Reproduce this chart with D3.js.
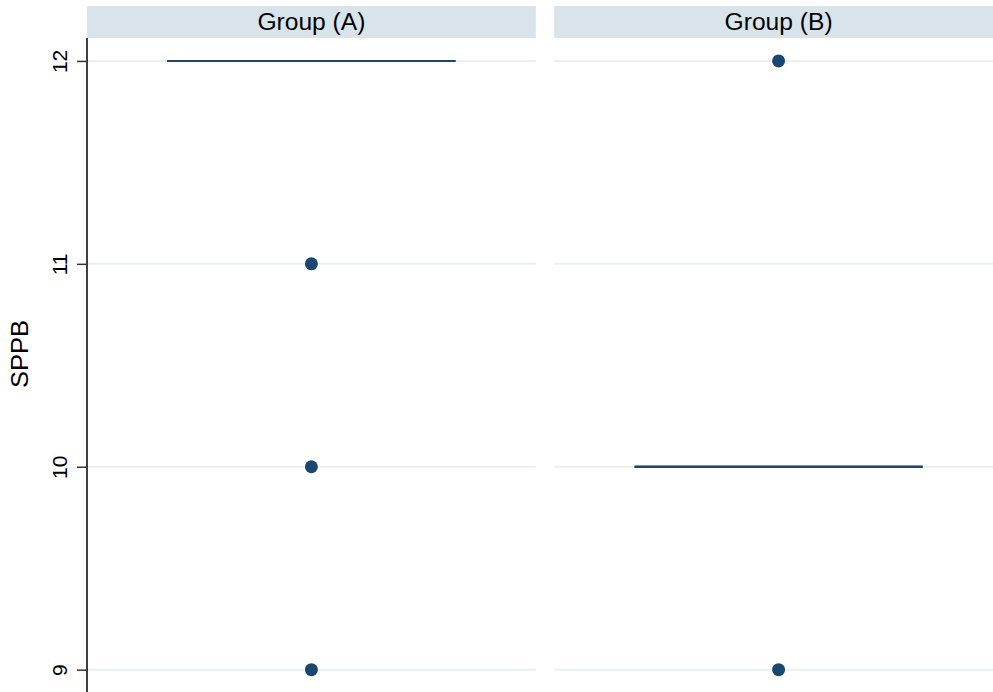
<!DOCTYPE html>
<html>
<head>
<meta charset="utf-8">
<script src="https://cdn.jsdelivr.net/npm/d3@7"></script>
<style>
  html, body { margin: 0; padding: 0; background: #fff; }
  svg { display: block; font-family: "Liberation Sans", Arial, sans-serif; }
</style>
</head>
<body>
<svg id="chart" width="993" height="692"></svg>
<script>
// Panels, box summaries (collapsed boxes) and outlying points
const groups = ["Group (A)", "Group (B)"];
const boxLow = [12, 10];
const boxMedian = [12, 10];
const boxHigh = [12, 10];
const outliersA = [11, 10, 9];
const outliersB = [12, 9];
const outliers = [outliersA, outliersB];
const yTicks = [9, 10, 11, 12];

const W = 993, H = 692;
const svg = d3.select("#chart");
const navy = "#1a476f";

const plotTop = 38, plotBottom = 692;
const y = d3.scaleLinear().domain([8.89, 12.113]).range([plotBottom, plotTop]);

const panels = d3.scaleBand().domain(groups).range([87, 1003]).paddingInner(0.0393);
const xInner = d3.scaleLinear().domain([0, 1]);

groups.forEach((g, i) => {
  const x0 = panels(g), bw = panels.bandwidth();
  const pg = svg.append("g");

  // strip header
  pg.append("rect").attr("x", x0).attr("y", 6).attr("width", bw).attr("height", 32)
    .attr("fill", "#d9e4ea");
  pg.append("text").attr("x", x0 + bw / 2).attr("y", 30)
    .attr("text-anchor", "middle").attr("font-size", 23.5).attr("fill", "#000")
    .attr("textLength", 108).attr("lengthAdjust", "spacingAndGlyphs").text(g);

  // gridlines
  pg.selectAll("line.grid").data(yTicks).join("line").attr("class", "grid")
    .attr("x1", x0).attr("x2", x0 + bw)
    .attr("y1", d => y(d)).attr("y2", d => y(d))
    .attr("stroke", "#eaf0f1").attr("stroke-width", 2);

  xInner.range([x0, x0 + bw]);
  const cx = xInner(0.5);
  const half = bw * 0.3207;

  // collapsed box: low, median and high coincide
  [boxLow[i], boxMedian[i], boxHigh[i]].forEach(v => {
    pg.append("line").attr("x1", cx - half).attr("x2", cx + half)
      .attr("y1", y(v)).attr("y2", y(v))
      .attr("stroke", navy).attr("stroke-width", 2);
  });

  // outside values
  pg.selectAll("circle").data(outliers[i]).join("circle")
    .attr("cx", cx).attr("cy", d => y(d)).attr("r", 6.5)
    .attr("fill", navy);
});

// y axis
const axis = svg.append("g").attr("transform", "translate(87,0)")
  .call(d3.axisLeft(y).tickValues(yTicks).tickSize(10).tickFormat(d3.format("d")));
axis.select(".domain").attr("d", `M0,${plotTop}V${plotBottom}`).attr("stroke", "#000").attr("stroke-width", 1.5);
axis.selectAll(".tick line").attr("stroke", "#333").attr("stroke-width", 1.5);
// tick labels read bottom-to-top, centred on each tick
axis.selectAll(".tick text")
  .attr("font-size", 21).attr("fill", "#000")
  .attr("font-family", "'Liberation Sans', Arial, sans-serif")
  .attr("text-anchor", "middle")
  .attr("transform", "translate(-20,0) rotate(-90)")
  .attr("x", 0).attr("y", 0).attr("dy", "0");

// axis title
svg.append("text").attr("transform", `translate(28,354) rotate(-90)`)
  .attr("text-anchor", "middle").attr("font-size", 23.5).attr("fill", "#000")
  .attr("textLength", 68).attr("lengthAdjust", "spacingAndGlyphs").text("SPPB");
</script>
</body>
</html>
